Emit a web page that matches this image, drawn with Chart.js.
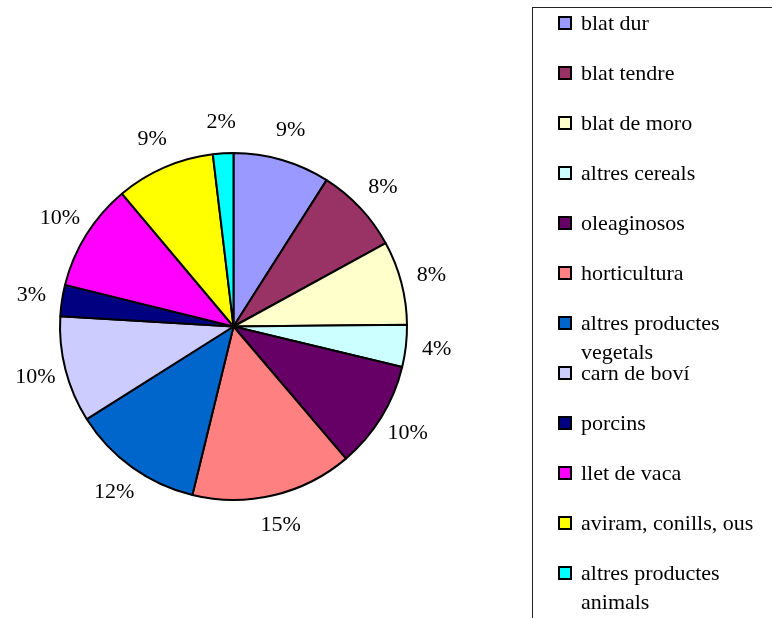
<!DOCTYPE html>
<html>
<head>
<meta charset="utf-8">
<script src="https://cdn.jsdelivr.net/npm/chart.js@4"></script>
<style>
  html, body { margin: 0; padding: 0; background: #fff; }
  body { width: 772px; height: 618px; overflow: hidden; position: relative; }
  #wrap { position: absolute; left: 0; top: 0; width: 533px; height: 618px; }
  #legend {
    position: absolute; left: 532px; top: 7px; width: 320px; height: 700px;
    border: 1px solid #222; box-sizing: border-box;
    font-family: "Liberation Serif", "Times New Roman", serif; font-size: 22px; color: #000;
  }
  #legend .item { position: absolute; left: 48px; width: 190px; line-height: 29px; }
  #legend .box {
    position: absolute; left: -23px; top: 8px; width: 14px; height: 14px;
    border: 2px solid #000; box-sizing: border-box;
  }
</style>
</head>
<body>
<div id="wrap"><canvas id="pie"></canvas></div>
<div id="legend"></div>
<script>
// categories and shares (clockwise from 12 o'clock)
const categories = [
  "blat dur", "blat tendre", "blat de moro", "altres cereals", "oleaginosos",
  "horticultura", "altres productes vegetals", "carn de boví", "porcins",
  "llet de vaca", "aviram, conills, ous", "altres productes animals"
];
const values = [9.0, 8.0, 7.8, 3.9, 10.0, 15.0, 12.2, 9.9, 2.9, 10.0, 9.2, 1.9];
const colors = [
  "#9999FF", "#993366", "#FFFFCC", "#CCFFFF", "#660066", "#FF8080",
  "#0066CC", "#CCCCFF", "#000080", "#FF00FF", "#FFFF00", "#00FFFF"
];

const total = values.reduce((a, b) => a + b, 0);

// percent labels outside each slice
const pctLabels = {
  id: "pctLabels",
  afterDatasetsDraw(chart) {
    const ctx = chart.ctx;
    const meta = chart.getDatasetMeta(0);
    ctx.save();
    ctx.font = '22px "Liberation Serif"';
    ctx.fillStyle = "#000";
    ctx.textAlign = "center";
    ctx.textBaseline = "middle";
    meta.data.forEach((arc, i) => {
      const p = arc.getProps(["x", "y", "startAngle", "endAngle", "outerRadius"], true);
      const mid = (p.startAngle + p.endAngle) / 2;
      const r = p.outerRadius + 31;
      const txt = Math.round(values[i] / total * 100) + "%";
      ctx.fillText(txt, p.x + Math.cos(mid) * r, p.y + Math.sin(mid) * r);
    });
    ctx.restore();
  }
};

new Chart(document.getElementById("pie"), {
  type: "pie",
  data: {
    labels: categories,
    datasets: [{
      data: values,
      backgroundColor: colors,
      borderColor: "#000",
      borderWidth: 2
    }]
  },
  options: {
    responsive: true,
    maintainAspectRatio: false,
    animation: false,
    layout: { padding: { left: 59, right: 125, top: 152, bottom: 117 } },
    plugins: { legend: { display: false }, tooltip: { enabled: false } }
  },
  plugins: [pctLabels]
});

// legend, built from the same arrays
const legend = document.getElementById("legend");
categories.forEach((c, i) => {
  const it = document.createElement("div");
  it.className = "item";
  it.style.top = (50 * i) + "px";
  it.innerHTML = `<span class="box" style="background:${colors[i]}"></span>${c}`;
  legend.appendChild(it);
});
</script>
</body>
</html>
